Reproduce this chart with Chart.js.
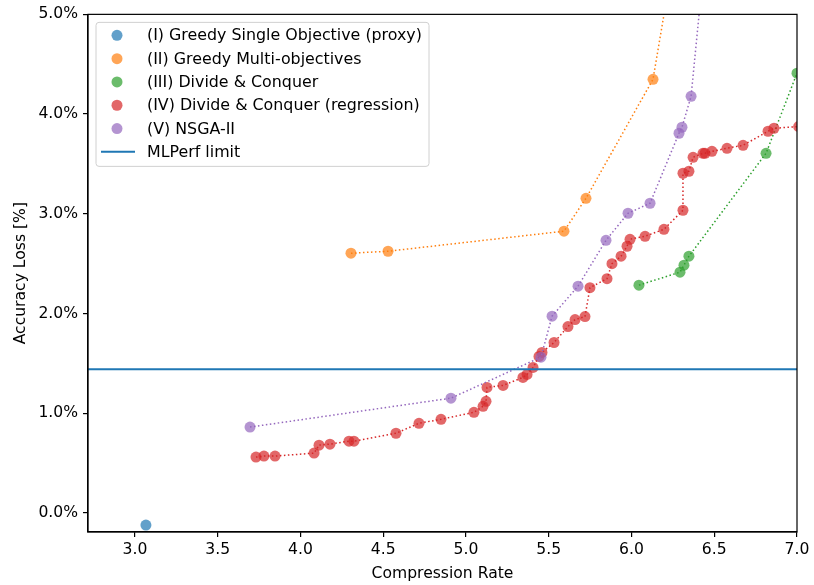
<!DOCTYPE html>
<html lang="en">
  <head>
    <meta charset="UTF-8" />
    <script src="https://cdn.jsdelivr.net/npm/chart.js"></script>
    <title>Compression vs accuracy loss</title>
    <style>
      body { margin: 0; background: #fff; }
      #wrap { width: 814px; height: 585px; }
    </style>
  </head>

  <body>
    <div id="wrap"><canvas id="myChart"></canvas></div>
    <script>
      // values
      const xTicks = [3.0, 3.5, 4.0, 4.5, 5.0, 5.5, 6.0, 6.5, 7.0];
      const yTicks = [0, 1, 2, 3, 4, 5];
      const mlperfLimit = 1.443;

      const greedyProxyX = [3.066];
      const greedyProxyY = [-0.12];

      const greedyMultiX = [4.305, 4.529, 5.592, 5.725, 6.13, 6.227];
      const greedyMultiY = [2.605, 2.625, 2.826, 3.156, 4.349, 5.3];

      const divConqX = [6.045, 6.293, 6.317, 6.347, 6.813, 7.0];
      const divConqY = [2.285, 2.415, 2.485, 2.575, 3.607, 4.41];

      const divConqRegX = [3.731, 3.779, 3.846, 4.082, 4.112, 4.178, 4.293, 4.323, 4.577, 4.716,
        4.849, 5.048, 5.103, 5.121, 5.127, 5.224, 5.344, 5.369, 5.405, 5.441,
        5.459, 5.532, 5.616, 5.659, 5.719, 5.749, 5.852, 5.882, 5.937, 5.973,
        5.991, 6.082, 6.196, 6.311, 6.311, 6.347, 6.372, 6.432, 6.444, 6.486,
        6.577, 6.674, 6.825, 6.861, 7.01];
      const divConqRegY = [0.561, 0.571, 0.571, 0.601, 0.681, 0.691, 0.721, 0.721, 0.80, 0.90,
        0.94, 1.01, 1.07, 1.12, 1.26, 1.28, 1.36, 1.39, 1.46, 1.57,
        1.61, 1.71, 1.87, 1.94, 1.97, 2.26, 2.35, 2.50, 2.575, 2.675,
        2.745, 2.775, 2.845, 3.036, 3.407, 3.427, 3.567, 3.607, 3.607, 3.627,
        3.657, 3.687, 3.828, 3.858, 3.875];

      const nsgaX = [3.695, 4.909, 5.453, 5.52, 5.677, 5.846, 5.979, 6.112, 6.287, 6.305, 6.36, 6.426];
      const nsgaY = [0.862, 1.152, 1.563, 1.974, 2.275, 2.735, 3.006, 3.106, 3.808, 3.868, 4.178, 5.3];

      const xMin = 2.716, xMax = 7.0;
      const yMin = -0.19, yMax = 5.0;

      const FONT = "DejaVu Sans";
      Chart.defaults.font.family = FONT;
      Chart.defaults.font.size = 15.6;
      Chart.defaults.color = "#000";

      function pts(xs, ys) {
        return xs.map((x, i) => ({ x: x, y: ys[i] }));
      }

      function series(label, xs, ys, rgb, order, line) {
        return {
          label: label,
          data: pts(xs, ys),
          showLine: line,
          borderColor: "rgb(" + rgb + ")",
          borderWidth: 1.5,
          borderDash: [1.5, 2.5],
          pointRadius: 5.5,
          pointHoverRadius: 5.5,
          pointBorderWidth: 0,
          pointBackgroundColor: "rgba(" + rgb + ",0.7)",
          clip: 0,
          order: order,
        };
      }

      const legendItems = [
        { text: "(I) Greedy Single Objective (proxy)", color: "rgba(31,119,180,0.7)" },
        { text: "(II) Greedy Multi-objectives", color: "rgba(255,127,14,0.7)" },
        { text: "(III) Divide & Conquer", color: "rgba(44,160,44,0.7)" },
        { text: "(IV) Divide & Conquer (regression)", color: "rgba(214,39,40,0.7)" },
        { text: "(V) NSGA-II", color: "rgba(148,103,189,0.7)" },
        { text: "MLPerf limit", color: "#1f77b4", line: true },
      ];

      // box spines + legend drawn inside the axes like matplotlib
      const boxAndLegend = {
        id: "boxAndLegend",
        afterDraw(chart) {
          const ctx = chart.ctx;
          const a = chart.chartArea;
          ctx.save();
          ctx.strokeStyle = "#000";
          ctx.lineWidth = 1.2;
          ctx.strokeRect(a.left, a.top, a.right - a.left, a.bottom - a.top);

          const bx = a.left + 8, by = a.top + 8, bw = 333, bh = 144;
          ctx.fillStyle = "rgba(255,255,255,0.8)";
          ctx.strokeStyle = "#d0d0d0";
          ctx.lineWidth = 1;
          ctx.beginPath();
          ctx.roundRect(bx, by, bw, bh, 3);
          ctx.fill();
          ctx.stroke();

          ctx.font = "15.85px '" + FONT + "'";
          ctx.textBaseline = "middle";
          legendItems.forEach((it, i) => {
            const y = by + 13 + i * 23.3;
            if (it.line) {
              ctx.strokeStyle = it.color;
              ctx.lineWidth = 2;
              ctx.beginPath();
              ctx.moveTo(bx + 5, y);
              ctx.lineTo(bx + 39, y);
              ctx.stroke();
            } else {
              ctx.fillStyle = it.color;
              ctx.beginPath();
              ctx.arc(bx + 21, y, 5.5, 0, Math.PI * 2);
              ctx.fill();
            }
            ctx.fillStyle = "#000";
            ctx.fillText(it.text, bx + 51, y + 1);
          });
          ctx.restore();
        },
      };

      const config = {
        type: "scatter",
        data: {
          datasets: [
            {
              type: "line",
              label: "MLPerf limit",
              data: [{ x: xMin, y: mlperfLimit }, { x: xMax, y: mlperfLimit }],
              borderColor: "#1f77b4",
              borderWidth: 2,
              pointRadius: 0,
              order: 0,
            },
            series("(V) NSGA-II", nsgaX, nsgaY, "148,103,189", 1, true),
            series("(IV) Divide & Conquer (regression)", divConqRegX, divConqRegY, "214,39,40", 2, true),
            series("(III) Divide & Conquer", divConqX, divConqY, "44,160,44", 3, true),
            series("(II) Greedy Multi-objectives", greedyMultiX, greedyMultiY, "255,127,14", 4, true),
            series("(I) Greedy Single Objective (proxy)", greedyProxyX, greedyProxyY, "31,119,180", 5, false),
          ],
        },
        options: {
          responsive: true,
          maintainAspectRatio: false,
          animation: false,
          layout: { padding: { top: 14, right: 17, left: 0, bottom: 0 } },
          plugins: { legend: { display: false }, tooltip: { enabled: false } },
          scales: {
            x: {
              type: "linear",
              min: xMin,
              max: xMax,
              afterBuildTicks: (s) => { s.ticks = xTicks.map((v) => ({ value: v })); },
              afterFit: (s) => { s.height = 53; },
              ticks: { callback: (v) => Number(v).toFixed(1), padding: 4, maxRotation: 0 },
              grid: { display: true, drawOnChartArea: false, drawTicks: true, tickLength: 5, color: "#000", lineWidth: 1.2 },
              border: { display: true, color: "#000", width: 1.2 },
              title: { display: true, text: "Compression Rate", padding: { top: 0, bottom: 2 } },
            },
            y: {
              type: "linear",
              min: yMin,
              max: yMax,
              afterBuildTicks: (s) => { s.ticks = yTicks.map((v) => ({ value: v })); },
              afterFit: (s) => { s.width = 88; },
              ticks: { callback: (v) => Number(v).toFixed(1) + "%", padding: 5 },
              grid: { display: true, drawOnChartArea: false, drawTicks: true, tickLength: 5, color: "#000", lineWidth: 1.2 },
              border: { display: true, color: "#000", width: 1.2 },
              title: { display: true, text: "Accuracy Loss [%]", padding: { top: 12, bottom: 0 } },
            },
          },
        },
        plugins: [boxAndLegend],
      };

      var myChart = new Chart(document.getElementById("myChart"), config);
    </script>
  </body>
</html>
